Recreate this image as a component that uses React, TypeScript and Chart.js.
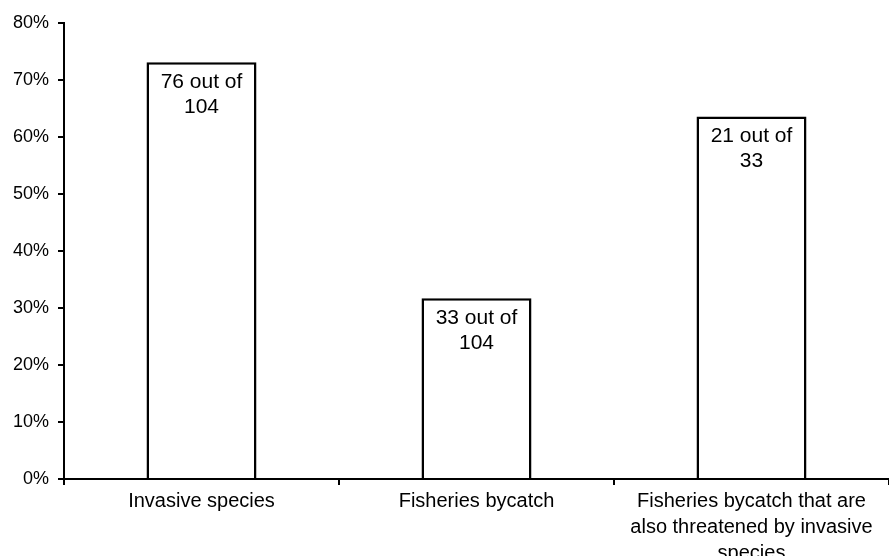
import React, { useEffect, useRef } from "react";
import { Chart, registerables } from "chart.js";

Chart.register(...registerables);

const categories: (string | string[])[] = [
  "Invasive species",
  "Fisheries bycatch",
  ["Fisheries bycatch that are", "also threatened by invasive", "species"],
];
const speciesCounts = [76, 33, 21];
const speciesTotals = [104, 104, 33];
const percentValues = [73.1, 31.7, 63.6];
const barLabels = [
  ["76 out of", "104"],
  ["33 out of", "104"],
  ["21 out of", "33"],
];
const yTickMax = 80;
const yTickStep = 10;

const FONT = "'Liberation Sans', Arial, sans-serif";

export default function App() {
  const ref = useRef<HTMLCanvasElement | null>(null);
  useEffect(() => {
    if (!ref.current) return;
    const labelPlugin = {
      id: "barTextLabels",
      afterDatasetsDraw(chart: any) {
        const ctx = chart.ctx;
        const meta = chart.getDatasetMeta(0);
        ctx.save();
        ctx.fillStyle = "#000";
        ctx.font = `21px ${FONT}`;
        ctx.textAlign = "center";
        ctx.textBaseline = "top";
        meta.data.forEach((el: any, i: number) => {
          const lines = barLabels[i];
          lines.forEach((line, j) => {
            ctx.fillText(line, el.x, el.y + 9 + j * 25);
          });
        });
        ctx.restore();
      },
    };
    const chart = new Chart(ref.current, {
      type: "bar",
      data: {
        labels: categories,
        datasets: [
          {
            data: percentValues,
            backgroundColor: "#ffffff",
            borderColor: "#000000",
            borderWidth: 2.5,
            borderSkipped: "bottom",
            categoryPercentage: 1,
            barPercentage: 0.4,
          },
        ],
      },
      options: {
        animation: false,
        responsive: true,
        maintainAspectRatio: false,
        layout: { padding: { top: 23, right: 0, left: 0, bottom: 0 } },
        plugins: {
          legend: { display: false },
          tooltip: { enabled: false },
        },
        scales: {
          x: {
            grid: {
              offset: true,
              drawOnChartArea: false,
              tickLength: 6,
              color: "#000",
              lineWidth: 2,
            },
            border: { color: "#000", width: 2 },
            ticks: {
              color: "#000",
              font: { family: FONT, size: 20, lineHeight: 1.3 },
              padding: 3,
              maxRotation: 0,
              autoSkip: false,
            },
            afterFit: (scale: any) => {
              scale.height = 77;
            },
          },
          y: {
            min: 0,
            max: yTickMax,
            grid: {
              drawOnChartArea: false,
              tickLength: 6,
              color: "#000",
              lineWidth: 2,
            },
            border: { color: "#000", width: 2 },
            ticks: {
              stepSize: yTickStep,
              color: "#000",
              font: { family: FONT, size: 18 },
              padding: 9,
              callback: (v: any) => `${v}%`,
            },
            afterFit: (scale: any) => {
              scale.width = 64;
            },
          },
        },
      },
      plugins: [labelPlugin],
    });
    return () => chart.destroy();
  }, []);
  return (
    <div
      style={{
        position: "fixed",
        left: 0,
        top: 0,
        width: 889,
        height: 556,
        background: "#fff",
      }}
    >
      <canvas ref={ref} />
    </div>
  );
}
